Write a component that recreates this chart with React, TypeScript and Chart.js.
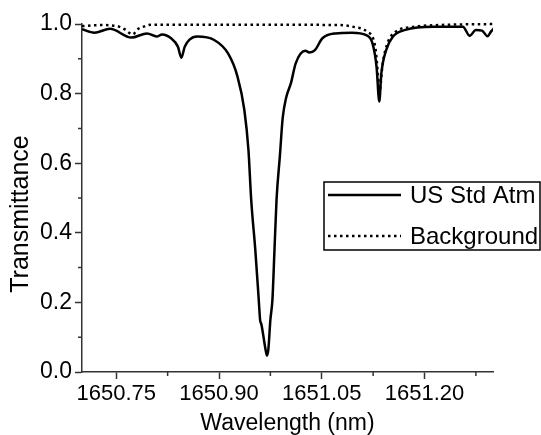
import { useEffect, useRef } from "react";
import { Chart, registerables } from "chart.js";

Chart.register(...registerables);

// US Standard Atmosphere transmittance
const usStdWavelength = [
  1650.7, 1650.718, 1650.741, 1650.772, 1650.795, 1650.809, 1650.817, 1650.83, 1650.84, 1650.845,
  1650.85, 1650.857, 1650.868, 1650.893, 1650.913, 1650.927, 1650.937, 1650.943, 1650.947, 1650.953,
  1650.958, 1650.96, 1650.962, 1650.968, 1650.97, 1650.972, 1650.975, 1650.978, 1650.981, 1650.984,
  1650.989, 1650.993, 1650.998, 1651.005, 1651.012, 1651.026, 1651.032, 1651.04, 1651.051, 1651.07,
  1651.094, 1651.115, 1651.124, 1651.13, 1651.134, 1651.137, 1651.144, 1651.154, 1651.172, 1651.214,
  1651.256, 1651.266, 1651.275, 1651.284, 1651.292, 1651.297, 1651.302,
];
const usStdTransmittance = [
  0.985, 0.975, 0.986, 0.961, 0.973, 0.964, 0.97, 0.959, 0.935, 0.903,
  0.935, 0.955, 0.964, 0.954, 0.916, 0.849, 0.753, 0.638, 0.495, 0.351,
  0.208, 0.15, 0.136, 0.064, 0.047, 0.064, 0.15, 0.208, 0.351, 0.495,
  0.624, 0.73, 0.788, 0.83, 0.887, 0.923, 0.918, 0.925, 0.959, 0.973,
  0.975, 0.968, 0.945, 0.877, 0.777, 0.858, 0.925, 0.964, 0.983, 0.992,
  0.992, 0.966, 0.983, 0.981, 0.965, 0.978, 0.989,
];

// Background transmittance
const bgWavelength = [
  1650.7, 1650.727, 1650.751, 1650.762, 1650.774, 1650.782, 1650.791, 1650.801, 1650.931, 1651.075,
  1651.098, 1651.116, 1651.128, 1651.133, 1651.134, 1651.139, 1651.146, 1651.158, 1651.185, 1651.222,
  1651.301,
];
const bgTransmittance = [
  0.994, 0.997, 0.994, 0.985, 0.97, 0.986, 0.993, 0.998, 0.998, 0.997,
  0.991, 0.978, 0.935, 0.83, 0.802, 0.887, 0.945, 0.978, 0.992, 0.997,
  1.0,
];

const xTicks = [1650.75, 1650.9, 1651.05, 1651.2];
const xMinorTicks = [1650.825, 1650.975, 1651.125, 1651.275];
const yTicks = [0, 0.2, 0.4, 0.6, 0.8, 1.0];
const yMinorTicks = [0.1, 0.3, 0.5, 0.7, 0.9];
const seriesLabels = ["US Std Atm", "Background"];
const xTitle = "Wavelength (nm)";
const yTitle = "Transmittance";

const FONT = "'Liberation Sans', Arial, sans-serif";
const AXIS_COLOR = "#333";

const minorTickPlugin = {
  id: "minorTicks",
  afterDraw(chart: any) {
    const ctx = chart.ctx;
    const x = chart.scales.x;
    const y = chart.scales.y;
    ctx.save();
    ctx.strokeStyle = AXIS_COLOR;
    ctx.lineWidth = 1.5;
    ctx.beginPath();
    for (const v of xMinorTicks) {
      const px = x.getPixelForValue(v);
      ctx.moveTo(px, x.top);
      ctx.lineTo(px, x.top + 4);
    }
    for (const v of yMinorTicks) {
      const py = y.getPixelForValue(v);
      ctx.moveTo(y.right, py);
      ctx.lineTo(y.right - 4, py);
    }
    ctx.stroke();
    ctx.restore();
  },
};

const yTitlePlugin = {
  id: "yTitle",
  afterDraw(chart: any) {
    const ctx = chart.ctx;
    ctx.save();
    ctx.translate(21, 214);
    ctx.rotate(-Math.PI / 2);
    ctx.fillStyle = "#000";
    ctx.font = `25px ${FONT}`;
    ctx.textAlign = "center";
    ctx.textBaseline = "middle";
    ctx.fillText(yTitle, 0, 0);
    ctx.restore();
  },
};

const legendPlugin = {
  id: "boxLegend",
  afterDraw(chart: any) {
    const ctx = chart.ctx;
    const left = 324;
    const top = 182;
    const right = 540;
    const bottom = 250;
    ctx.save();
    ctx.fillStyle = "#fff";
    ctx.fillRect(left, top, right - left, bottom - top);
    ctx.strokeStyle = "#000";
    ctx.lineWidth = 1.5;
    ctx.strokeRect(left, top, right - left, bottom - top);
    const rows = [195, 236];
    chart.data.datasets.forEach((ds: any, i: number) => {
      const yy = rows[i];
      ctx.beginPath();
      ctx.setLineDash(ds.borderDash || []);
      ctx.lineWidth = ds.borderWidth;
      ctx.strokeStyle = ds.borderColor;
      ctx.moveTo(328, yy);
      ctx.lineTo(401, yy);
      ctx.stroke();
      ctx.setLineDash([]);
      ctx.fillStyle = "#000";
      ctx.font = `24px ${FONT}`;
      ctx.textBaseline = "middle";
      ctx.textAlign = "left";
      ctx.fillText(ds.label, 410, yy + 1);
    });
    ctx.restore();
  },
};

export default function App() {
  const ref = useRef<HTMLCanvasElement | null>(null);

  useEffect(() => {
    if (!ref.current) return;
    const chart = new Chart(ref.current, {
      type: "line",
      data: {
        datasets: [
          {
            label: seriesLabels[0],
            data: usStdWavelength.map((w, i) => ({ x: w, y: usStdTransmittance[i] })),
            borderColor: "#000",
            borderWidth: 2.5,
            pointRadius: 0,
            cubicInterpolationMode: "monotone",
            fill: false,
          },
          {
            label: seriesLabels[1],
            data: bgWavelength.map((w, i) => ({ x: w, y: bgTransmittance[i] })),
            borderColor: "#000",
            borderWidth: 2.5,
            borderDash: [2.5, 3.5],
            pointRadius: 0,
            cubicInterpolationMode: "monotone",
            fill: false,
            clip: false as any,
          },
        ],
      },
      options: {
        animation: false,
        responsive: true,
        maintainAspectRatio: false,
        layout: { padding: { top: 24, right: 48, left: 0, bottom: 0 } },
        plugins: {
          legend: { display: false },
          tooltip: { enabled: false },
        },
        scales: {
          x: {
            type: "linear",
            min: 1650.7,
            max: 1651.3,
            afterBuildTicks: (s: any) => {
              s.ticks = xTicks.map((v) => ({ value: v }));
            },
            afterFit: (s: any) => {
              s.height = 63;
            },
            ticks: {
              color: "#000",
              font: { family: FONT, size: 22 },
              padding: 2,
              maxRotation: 0,
              autoSkip: false,
              callback: (v: any) => Number(v).toFixed(2),
            },
            grid: {
              drawOnChartArea: false,
              drawTicks: true,
              tickLength: 7,
              tickColor: AXIS_COLOR,
              tickWidth: 1.5,
            },
            border: { display: true, color: AXIS_COLOR, width: 1.5 },
            title: {
              display: true,
              text: xTitle,
              color: "#000",
              font: { family: FONT, size: 23, lineHeight: 1 },
              padding: { top: 0, bottom: 0 },
            },
          },
          y: {
            type: "linear",
            min: 0,
            max: 1.0,
            afterBuildTicks: (s: any) => {
              s.ticks = yTicks.map((v) => ({ value: v }));
            },
            afterFit: (s: any) => {
              s.width = 82;
            },
            ticks: {
              color: "#000",
              font: { family: FONT, size: 23 },
              padding: 3,
              autoSkip: false,
              callback: (v: any) => Number(v).toFixed(1),
            },
            grid: {
              drawOnChartArea: false,
              drawTicks: true,
              tickLength: 7,
              tickColor: AXIS_COLOR,
              tickWidth: 1.5,
            },
            border: { display: true, color: AXIS_COLOR, width: 1.5 },
            title: { display: false },
          },
        },
      },
      plugins: [minorTickPlugin, yTitlePlugin, legendPlugin],
    });
    return () => chart.destroy();
  }, []);

  return (
    <div style={{ position: "absolute", left: 0, top: 0, width: 541, height: 435, background: "#fff" }}>
      <canvas ref={ref} />
    </div>
  );
}
